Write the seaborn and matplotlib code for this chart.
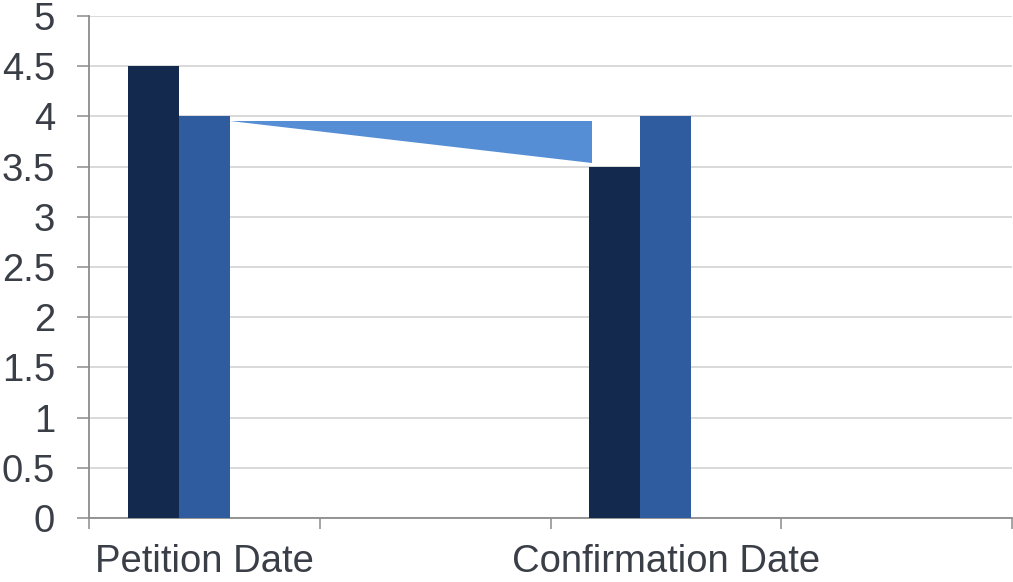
import matplotlib
matplotlib.use("Agg")
import matplotlib.pyplot as plt
import seaborn as sns
import pandas as pd
import numpy as np

# ---- data ----
categories = ["Petition Date", " ", "Confirmation Date", "  "]
tick_labels = ["Petition Date", "", "Confirmation Date", ""]
series_names = ["Series 1", "Series 2", "Series 3"]
series1 = [4.5, 0.0, 3.5, 0.0]
series2 = [4.0, 0.0, 4.0, 0.0]
series3 = [0.0, 0.0, 0.0, 0.0]
connector_top = 3.95
connector_bottom = 3.54
y_ticks = [0, 0.5, 1, 1.5, 2, 2.5, 3, 3.5, 4, 4.5, 5]
y_tick_labels = ["0", "0.5", "1", "1.5", "2", "2.5", "3", "3.5", "4", "4.5", "5"]

colors = ["#132A4E", "#2E5C9E", "#558ED5"]
text_color = "#3A3F47"
axis_color = "#8C8C8C"
grid_color = "#D0D0D0"

rows = []
for name, vals in zip(series_names, [series1, series2, series3]):
    for c, v in zip(categories, vals):
        rows.append({"category": c, "series": name, "value": v})
df = pd.DataFrame(rows)

sns.set_theme(style="white")
plt.rcParams["font.family"] = ["Liberation Sans", "DejaVu Sans"]

fig = plt.figure(figsize=(10.13, 5.82), dpi=100)
ax = fig.add_axes([89 / 1013, 1 - 518 / 582, (1012 - 89) / 1013, (518 - 16) / 582])

sns.barplot(data=df, x="category", y="value", hue="series", order=categories,
            hue_order=series_names, palette=colors, width=0.665, gap=0,
            errorbar=None, linewidth=0, saturation=1, ax=ax, legend=False, zorder=3)

# connector wedge between the groups
bar_p2 = ax.containers[1][0]
bar_c1 = ax.containers[0][2]
xl = bar_p2.get_x() + bar_p2.get_width()
xr = bar_c1.get_x() + 0.012
ax.fill([xl, xr, xr], [connector_top, connector_top, connector_bottom],
        color=colors[2], linewidth=0, zorder=4)

ax.set_xlim(-0.5, len(categories) - 0.5)
ax.set_ylim(0, 5)
ax.set_yticks(y_ticks)
ax.set_yticklabels(y_tick_labels)
ax.yaxis.grid(True, color=grid_color, linewidth=1.1, zorder=0)
ax.set_axisbelow(True)

ax.set_xticks(np.arange(len(categories) + 1) - 0.5)
ax.set_xticklabels([""] * (len(categories) + 1))
ax.set_xticks(np.arange(len(categories)), minor=True)
ax.set_xticklabels(tick_labels, minor=True)
ax.tick_params(axis="x", which="major", direction="out", length=8, width=1.1,
               color=axis_color, bottom=True)
ax.tick_params(axis="x", which="minor", length=0, pad=19, labelsize=27.5,
               labelcolor=text_color)
ax.tick_params(axis="y", direction="out", length=8.5, width=1.1, color=axis_color,
               left=True, pad=16, labelsize=27.5, labelcolor=text_color)

ax.set_xlabel("")
ax.set_ylabel("")
for s in ["top", "right"]:
    ax.spines[s].set_visible(False)
for s in ["left", "bottom"]:
    ax.spines[s].set_color(axis_color)
    ax.spines[s].set_linewidth(1.3)
ax.spines["left"].set_bounds(0, 5)

fig.savefig("out.png", dpi=100)
